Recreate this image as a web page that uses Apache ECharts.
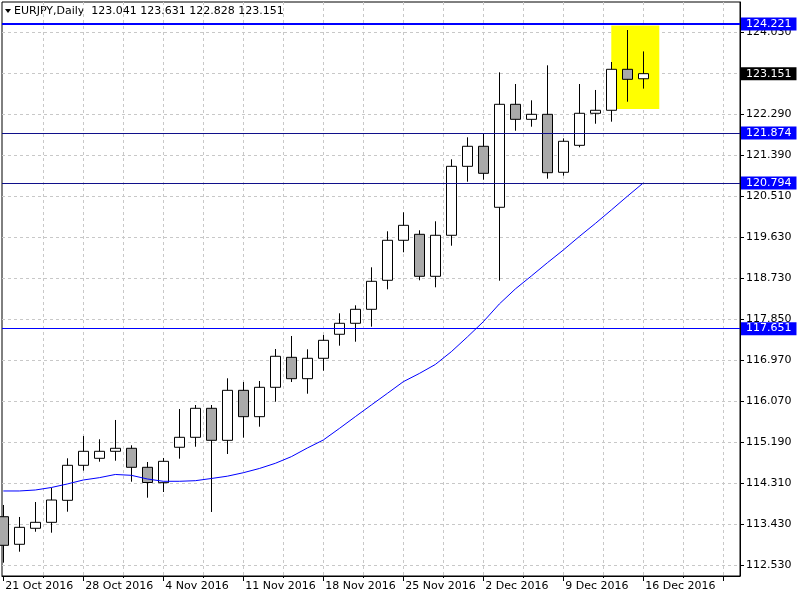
<!DOCTYPE html>
<html>
<head>
<meta charset="utf-8">
<script src="https://cdn.jsdelivr.net/npm/echarts@6/dist/echarts.min.js"></script>
<style>
html,body{margin:0;padding:0;background:#fff}
#chart{width:800px;height:600px}
</style>
</head>
<body>
<div id="chart"></div>
<script>
// EURJPY Daily, 21 Oct 2016 .. 16 Dec 2016
var dates = [
    '21 Oct 2016',
    '24 Oct 2016', '25 Oct 2016', '26 Oct 2016', '27 Oct 2016', '28 Oct 2016',
    '31 Oct 2016', '1 Nov 2016', '2 Nov 2016', '3 Nov 2016', '4 Nov 2016',
    '7 Nov 2016', '8 Nov 2016', '9 Nov 2016', '10 Nov 2016', '11 Nov 2016',
    '14 Nov 2016', '15 Nov 2016', '16 Nov 2016', '17 Nov 2016', '18 Nov 2016',
    '21 Nov 2016', '22 Nov 2016', '23 Nov 2016', '24 Nov 2016', '25 Nov 2016',
    '28 Nov 2016', '29 Nov 2016', '30 Nov 2016', '1 Dec 2016', '2 Dec 2016',
    '5 Dec 2016', '6 Dec 2016', '7 Dec 2016', '8 Dec 2016', '9 Dec 2016',
    '12 Dec 2016', '13 Dec 2016', '14 Dec 2016', '15 Dec 2016', '16 Dec 2016'
];
var opens = [
    113.592, 112.997, 113.342, 113.471, 113.946, 114.701, 114.852, 115.003, 115.068, 114.658,
    114.326, 115.090, 115.305, 115.931, 115.240, 116.319, 115.750, 116.384, 117.031, 116.570,
    117.010, 117.528, 117.765, 118.067, 118.693, 119.556, 119.685, 118.779, 119.664, 121.152,
    121.584, 120.268, 122.490, 122.166, 122.274, 121.023, 121.605, 122.296, 122.361, 123.245,
    123.041
];
var closes = [
    112.975, 113.363, 113.471, 113.952, 114.701, 115.003, 115.003, 115.068, 114.658, 114.330,
    114.787, 115.305, 115.931, 115.240, 116.319, 115.750, 116.384, 117.053, 116.570, 117.010,
    117.398, 117.765, 118.067, 118.671, 119.556, 119.879, 118.779, 119.664, 121.152, 121.584,
    121.001, 122.490, 122.166, 122.274, 121.014, 121.692, 122.296, 122.361, 123.245, 123.029,
    123.151
];
var lows = [
    112.600, 112.837, 113.268, 113.247, 113.700, 114.585, 114.779, 114.800, 114.347, 114.002,
    114.125, 114.844, 115.102, 113.694, 114.945, 115.297, 115.534, 116.073, 116.498, 116.246,
    116.742, 117.282, 117.368, 117.692, 118.498, 119.297, 118.693, 118.542, 119.439, 120.820,
    120.863, 118.684, 121.920, 122.007, 120.885, 120.950, 121.562, 122.071, 122.115, 122.546,
    122.828
];
var highs = [
    113.845, 113.586, 113.909, 114.218, 114.852, 115.333, 115.262, 115.679, 115.133, 114.772,
    114.859, 115.916, 116.002, 116.002, 116.578, 116.498, 116.520, 117.210, 117.491, 117.204,
    117.512, 117.981, 118.153, 118.973, 119.750, 120.160, 119.772, 119.966, 121.303, 121.778,
    121.856, 123.180, 122.928, 122.576, 123.331, 121.756, 122.928, 122.799, 123.403, 124.093,
    123.631
];
var ma = [
    114.147, 114.147, 114.168, 114.222, 114.298, 114.384, 114.434, 114.503, 114.485, 114.406,
    114.356, 114.356, 114.369, 114.416, 114.466, 114.541, 114.632, 114.744, 114.887, 115.074,
    115.247, 115.495, 115.750, 116.002, 116.252, 116.505, 116.682, 116.876, 117.152, 117.469,
    117.799, 118.181, 118.505, 118.785, 119.070, 119.346, 119.638, 119.918, 120.209, 120.505,
    120.794
];
var levels = [124.221, 121.874, 120.794, 117.651];
var levelColors = ['#0000ff', '#10108a', '#10108a', '#0000ff'];
var levelWidths = [2, 1, 1, 1];
var lastPrice = 123.151;
var boxIdx = [38, 41];
var boxPrice = [124.19, 122.39];
var yTickLabels = ['112.530', '113.430', '114.310', '115.190', '116.070', '116.970', '117.850',
    '118.730', '119.630', '120.510', '121.390', '122.290', '123.170', '124.030'];
var title = 'EURJPY,Daily  ' + [opens[40], highs[40], lows[40], closes[40]].map(function (v) { return v.toFixed(3); }).join(' ');

// axis frame (price scale of the picture)
var yBase = 112.55, yStep = 11.5 / 13;
var yTicks = yTickLabels.map(function (s, k) { return yBase + k * yStep; });
var majorX = [0, 5, 10, 15, 20, 25, 30, 35, 40, 45];
var minorX = [];
for (var k = 1; k <= 18; k++) minorX.push(k * 2.5);

var font = 'DejaVu Sans';
var chart = echarts.init(document.getElementById('chart'), null, {renderer: 'canvas'});

var levelLines = levels.map(function (v, i) {
    return {
        yAxis: v,
        lineStyle: {color: levelColors[i], width: levelWidths[i], type: 'solid'},
        label: {backgroundColor: '#0000ff', formatter: v.toFixed(3)}
    };
});
levelLines.push({
    yAxis: lastPrice,
    lineStyle: {color: 'rgba(0,0,0,0)', width: 0},
    label: {backgroundColor: '#000000', formatter: lastPrice.toFixed(3)}
});

var option = {
    animation: false,
    backgroundColor: '#ffffff',
    grid: {left: 2, right: 60, top: 2, bottom: 24, show: true, borderColor: '#000', borderWidth: 1, backgroundColor: '#fff'},
    xAxis: [{
        type: 'value', position: 'bottom', min: -0.08125, max: 46.04375,
        axisLine: {show: true, onZero: false, lineStyle: {color: '#000', width: 1}},
        axisTick: {show: true, customValues: majorX, length: 5, lineStyle: {color: '#000'}},
        axisLabel: {
            customValues: [0, 5, 10, 15, 20, 25, 30, 35, 40],
            formatter: function (v) { return dates[Math.round(v)] || ''; },
            align: 'left', margin: 5, padding: [0, 0, 0, 2],
            color: '#000', fontFamily: font, fontSize: 11
        },
        splitLine: {show: false}
    }, {
        type: 'value', position: 'bottom', min: -0.08125, max: 46.04375,
        axisLine: {show: false},
        axisTick: {show: true, customValues: minorX, length: 2, lineStyle: {color: '#000'}},
        axisLabel: {show: false},
        splitLine: {show: true, lineStyle: {color: '#c8c8c8', type: [3, 3], width: 1}}
    }],
    yAxis: [{
        type: 'value', position: 'right', min: yBase - 11 * 0.021576, max: yBase + 563 * 0.021576,
        axisLine: {show: true, onZero: false, lineStyle: {color: '#000'}},
        axisTick: {show: true, customValues: yTicks, length: 4, lineStyle: {color: '#000'}},
        axisLabel: {
            customValues: yTicks,
            formatter: function (v) { return yTickLabels[Math.round((v - yBase) / yStep)]; },
            margin: 6, color: '#000', fontFamily: font, fontSize: 11
        },
        splitLine: {show: true, lineStyle: {color: '#c8c8c8', type: [3, 3], width: 1}}
    }],
    graphic: [{
        type: 'polygon', shape: {points: [[5, 9], [11, 9], [8, 13]]}, style: {fill: '#000'}
    }, {
        type: 'text', left: 14, top: 6,
        style: {text: title, fill: '#000', font: '11px "DejaVu Sans"'}
    }],
    series: [{
        type: 'candlestick',
        xAxisIndex: 0, yAxisIndex: 0,
        data: opens.map(function (o, i) { return [i, o, closes[i], lows[i], highs[i]]; }),
        encode: {x: 0, y: [1, 2, 3, 4]},
        barWidth: 10,
        itemStyle: {color: '#ffffff', color0: '#a9a9a9', borderColor: '#000', borderColor0: '#000', borderWidth: 1},
        markArea: {
            silent: true,
            itemStyle: {color: '#ffff00', opacity: 1},
            data: [[{xAxis: boxIdx[0], yAxis: boxPrice[0]}, {xAxis: boxIdx[1], yAxis: boxPrice[1]}]]
        }
    }, {
        type: 'line',
        xAxisIndex: 0, yAxisIndex: 0, z: 3,
        data: ma.map(function (v, i) { return [i, v]; }),
        showSymbol: false, symbol: 'none', smooth: false,
        lineStyle: {color: '#0000ff', width: 1},
        markLine: {
            silent: true, symbol: ['none', 'none'],
            label: {
                show: true, position: 'end', distance: 1,
                color: '#fff', fontFamily: font, fontSize: 11,
                padding: [1, 5, 0, 5], lineHeight: 12
            },
            data: levelLines
        }
    }]
};
chart.setOption(option);
</script>
</body>
</html>
